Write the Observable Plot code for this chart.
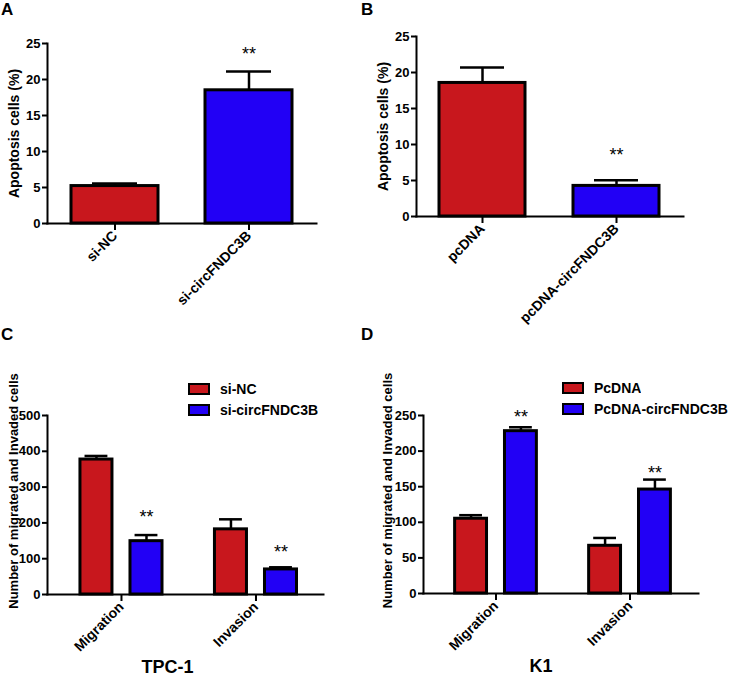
<!DOCTYPE html>
<html><head><meta charset="utf-8">
<script src="https://cdn.jsdelivr.net/npm/d3@7"></script>
<script src="https://cdn.jsdelivr.net/npm/@observablehq/plot@0.6"></script>
<style>
html,body{margin:0;padding:0;background:#fff;}
#fig{position:relative;width:736px;height:677px;overflow:hidden;font-family:'Liberation Sans',Arial,sans-serif;}
.panel{position:absolute;}
.leg{position:absolute;}
.leg svg{margin-right:11px !important;}
.leg rect{stroke:#000;stroke-width:2px;}
.txt{position:absolute;font-weight:bold;color:#000;white-space:nowrap;line-height:1;font-family:'Liberation Sans',Arial,sans-serif;}
</style></head><body><div id="fig"></div>
<script>
const RED = "#C8171D", BLUE = "#2200F5";
const FONT = "'Liberation Sans', Arial, Helvetica, sans-serif";

// Panel A
const catsA = ["si-NC", "si-circFNDC3B"];
const valuesA = [5.2, 18.5];
const errA = [0.35, 2.6];
const starA = [null, 24.2];
// Panel B
const catsB = ["pcDNA", "pcDNA-circFNDC3B"];
const valuesB = [18.55, 4.25];
const errB = [2.15, 0.8];
const starB = [null, 9.2];
const yTicksAB = [0, 5, 10, 15, 20, 25];
// Panels C, D
const groups = ["Migration", "Invasion"];
const seriesC = ["si-NC", "si-circFNDC3B"];
const valuesC_NC = [377, 182];
const errC_NC = [10, 28];
const valuesC_circ = [149, 70];
const errC_circ = [17, 6];
const starC_circ = [231, 132];
const yTicksC = [0, 100, 200, 300, 400, 500];
const seriesD = ["PcDNA", "PcDNA-circFNDC3B"];
const valuesD_Pc = [105, 67];
const errD_Pc = [5, 11];
const valuesD_circ = [228, 146];
const errD_circ = [5.5, 14];
const starD_circ = [254.6, 175.3];
const yTicksD = [0, 50, 100, 150, 200, 250];

const fig = document.getElementById("fig");
function place(el, left, top, cls) {
  el.classList.add(cls || "panel");
  el.style.left = left + "px";
  el.style.top = top + "px";
  fig.appendChild(el);
  return el;
}
const baseStyle = {fontFamily: FONT, fontWeight: "bold", color: "#000", background: "transparent", overflow: "visible"};

function simplePanel({cats, values, errs, stars, yTicks, yMax, label, m, pad, labelDx}) {
  const rows = cats.map((c, i) => ({cat: c, value: values[i], err: errs[i], star: stars[i]}));
  return Plot.plot({
    width: 368, height: 320,
    marginLeft: m[0], marginRight: m[1], marginTop: m[2], marginBottom: m[3],
    style: baseStyle,
    x: {domain: cats, paddingInner: pad[0], paddingOuter: pad[1]},
    y: {domain: [0, yMax]},
    color: {domain: cats, range: [RED, BLUE]},
    marks: [
      Plot.barY(rows, {x: "cat", y1: 0, y2: "value", fill: "cat", stroke: "#000", strokeWidth: 3}),
      Plot.ruleX(rows, {x: "cat", y1: "value", y2: d => d.value + d.err, stroke: "#000", strokeWidth: 2.5}),
      Plot.tickY(rows, {x: "cat", y: d => d.value + d.err, stroke: "#000", strokeWidth: 2.5, insetLeft: 21, insetRight: 21}),
      Plot.text(rows.filter(d => d.star != null), {x: "cat", y: "star", text: () => "**", fontSize: 18, fontWeight: "normal", dy: 5}),
      Plot.frame({anchor: "left", strokeWidth: 2}),
      Plot.frame({anchor: "bottom", strokeWidth: 2}),
      Plot.axisY({ticks: yTicks, tickSize: 5, tickPadding: 2, fontSize: 13, strokeWidth: 2, label: null}),
      Plot.axisX({tickRotate: -45, tickSize: 7, tickPadding: 3, fontSize: 14, strokeWidth: 2, label: null}),
      Plot.text([label], {frameAnchor: "left", textAnchor: "middle", lineAnchor: "middle", rotate: -90, dx: labelDx, fontSize: 14})
    ]
  });
}

function groupedPanel({series, vals, errs, stars, yTicks, yMax, label, m, xDomain, labelDx, labelDy}) {
  const OFF = 0.186, BW = 0.238, CAP = 0.085;
  const rows = groups.flatMap((g, gi) => series.map((s, si) => ({
    group: g, gi, series: s, value: vals[si][gi], err: errs[si][gi], star: stars[si][gi],
    cx: gi + (si - 0.5) * 2 * OFF
  })));
  return Plot.plot({
    width: 368, height: 357,
    marginLeft: m[0], marginRight: m[1], marginTop: m[2], marginBottom: m[3],
    style: baseStyle,
    x: {type: "linear", domain: xDomain},
    y: {domain: [0, yMax]},
    color: {domain: series, range: [RED, BLUE]},
    marks: [
      Plot.rectY(rows, {x1: d => d.cx - BW / 2, x2: d => d.cx + BW / 2, y1: 0, y2: "value", fill: "series", stroke: "#000", strokeWidth: 3}),
      Plot.ruleX(rows, {x: "cx", y1: "value", y2: d => d.value + d.err, stroke: "#000", strokeWidth: 2.5}),
      Plot.ruleY(rows, {y: d => d.value + d.err, x1: d => d.cx - CAP, x2: d => d.cx + CAP, stroke: "#000", strokeWidth: 2.5}),
      Plot.text(rows.filter(d => d.star != null), {x: "cx", y: "star", text: () => "**", fontSize: 18, fontWeight: "normal", dy: 5}),
      Plot.frame({anchor: "left", strokeWidth: 2}),
      Plot.frame({anchor: "bottom", strokeWidth: 2}),
      Plot.axisY({ticks: yTicks, tickSize: 5, tickPadding: 2, fontSize: 13, strokeWidth: 2, label: null}),
      Plot.axisX({ticks: [0, 1], tickFormat: i => groups[i], tickRotate: -45, tickSize: 7, tickPadding: 3, fontSize: 14, strokeWidth: 2, label: null}),
      Plot.text([label], {frameAnchor: "left", textAnchor: "middle", lineAnchor: "middle", rotate: -90, dx: labelDx, dy: labelDy, fontSize: 13})
    ]
  });
}

place(simplePanel({cats: catsA, values: valuesA, errs: errA, stars: starA, yTicks: yTicksAB, yMax: 25,
  label: "Apoptosis cells (%)", m: [47, 52, 43, 97], pad: [0.351, 0.179], labelDx: -33}), 0, 0);
place(simplePanel({cats: catsB, values: valuesB, errs: errB, stars: starB, yTicks: yTicksAB, yMax: 25,
  label: "Apoptosis cells (%)", m: [48, 53, 36, 104], pad: [0.358, 0.175], labelDx: -33}), 368, 0);
place(groupedPanel({series: seriesC, vals: [valuesC_NC, valuesC_circ], errs: [errC_NC, errC_circ],
  stars: [[null, null], starC_circ], yTicks: yTicksC, yMax: 500,
  label: "Number of migrated and Invaded cells", m: [47, 45, 95, 83], xDomain: [-0.550, 1.502], labelDx: -33.5, labelDy: -14}), 0, 320);
place(groupedPanel({series: seriesD, vals: [valuesD_Pc, valuesD_circ], errs: [errD_Pc, errD_circ],
  stars: [[null, null], starD_circ], yTicks: yTicksD, yMax: 250,
  label: "Number of migrated and Invaded cells", m: [55, 38, 95, 84], xDomain: [-0.541, 1.511], labelDx: -36, labelDy: -14}), 368, 320);

function legend(series, left, top) {
  const l = Plot.legend({color: {domain: series, range: [RED, BLUE]}, legend: "swatches", columns: 1,
    swatchWidth: 20, swatchHeight: 10,
    style: {fontFamily: FONT, fontSize: "14px", fontWeight: "bold", lineHeight: "20px", color: "#000", margin: "0", background: "transparent"}});
  const wrap = document.createElement("div");
  wrap.appendChild(l);
  place(wrap, left, top, "leg");
}
legend(seriesC, 189, 379);
legend(seriesD, 563, 378);

function txt(s, left, top, size, center) {
  const d = document.createElement("div");
  d.textContent = s;
  d.style.fontSize = size + "px";
  if (center) d.style.transform = "translateX(-50%)";
  place(d, left, top, "txt");
}
txt("A", 1, 0.6, 17);
txt("B", 361, 0.6, 17);
txt("C", 1, 325.6, 17);
txt("D", 361, 325.6, 17);
txt("TPC-1", 167.5, 657.5, 18, true);
txt("K1", 541, 657, 18, true);
</script></body></html>
